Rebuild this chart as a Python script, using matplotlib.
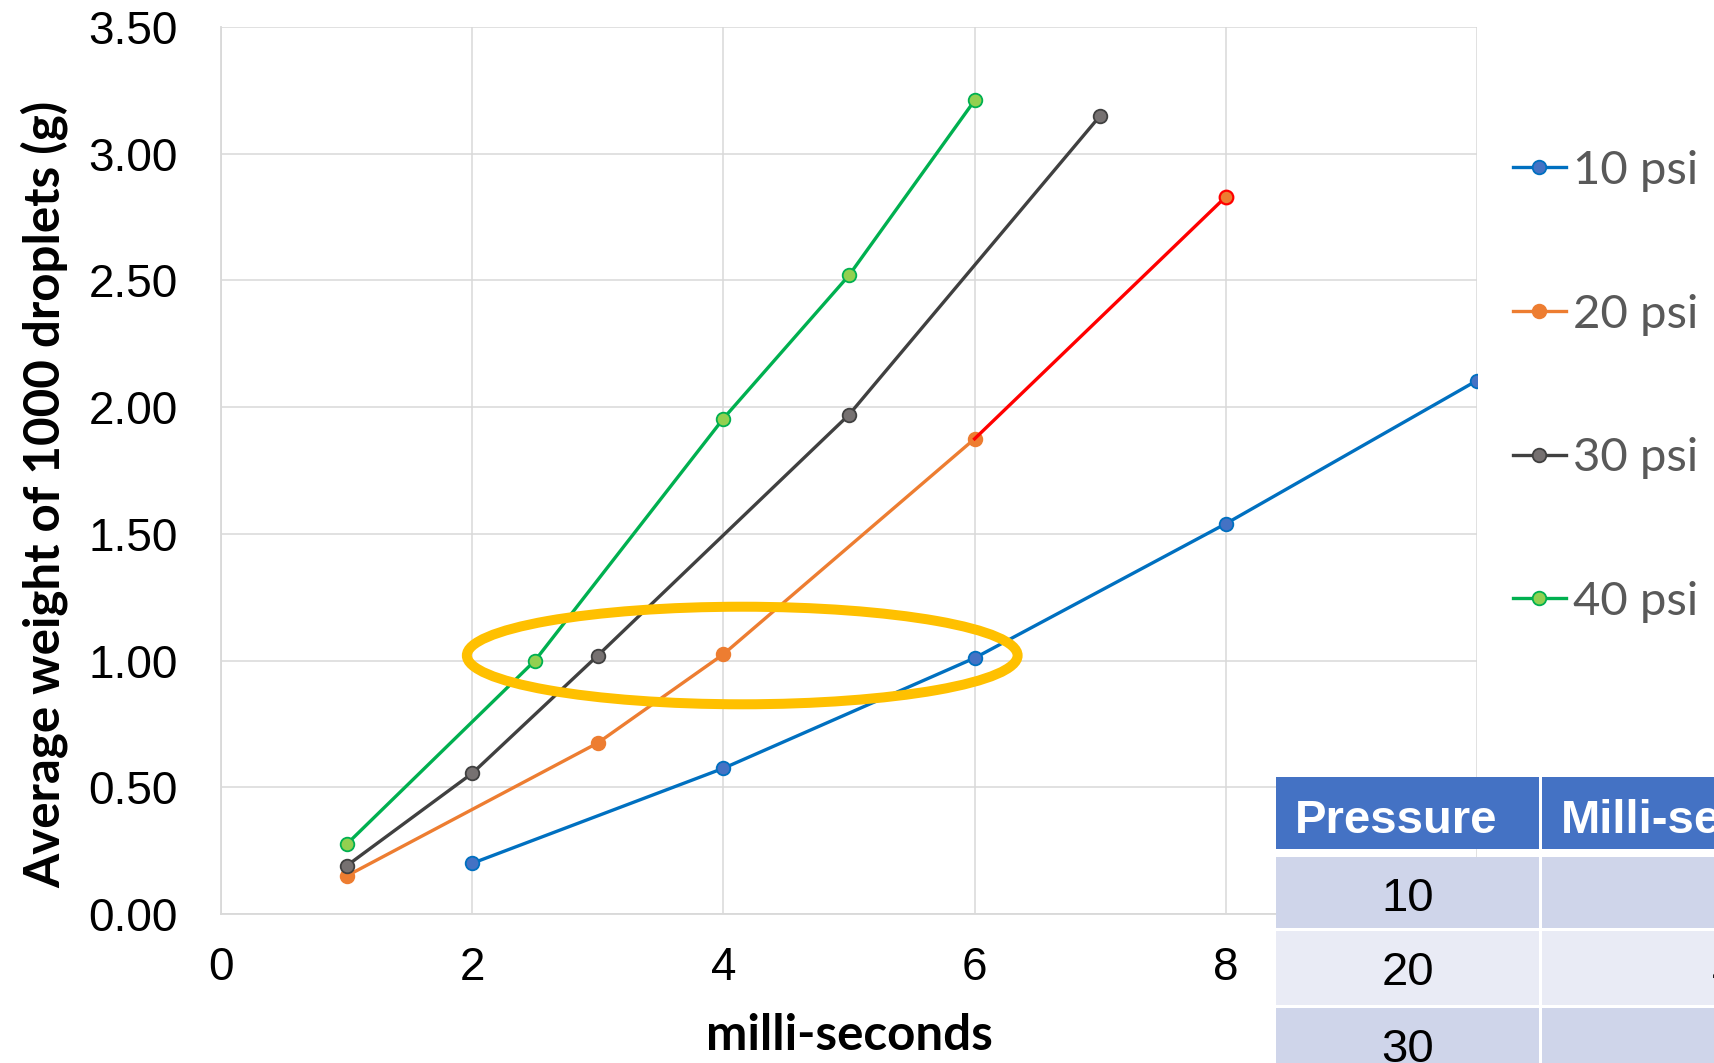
import matplotlib
matplotlib.use("Agg")
import matplotlib.pyplot as plt
from matplotlib.patches import Ellipse, Rectangle

# droplet weight vs valve open time, one series per pressure
ms_10 = [2, 4, 6, 8, 10]
wt_10 = [0.20, 0.575, 1.01, 1.54, 2.105]
ms_20 = [1, 3, 4, 6, 8]
wt_20 = [0.15, 0.675, 1.025, 1.875, 2.83]
ms_30 = [1, 2, 3, 5, 7]
wt_30 = [0.19, 0.555, 1.02, 1.97, 3.15]
ms_40 = [1, 2.5, 4, 5, 6]
wt_40 = [0.275, 1.0, 1.955, 2.52, 3.21]

labels = ["10 psi", "20 psi", "30 psi", "40 psi"]

# summary table: time needed for ~1 g per 1000 droplets
tbl_header = ["Pressure", "Milli-seconds"]
tbl_pressure = ["10", "20", "30"]
tbl_ms = ["6", "4", "3"]

W, H = 1714, 1063
fig = plt.figure(figsize=(W / 100, H / 100), dpi=100)
ax = fig.add_axes([221 / W, 1 - 914 / H, 1256 / W, 887 / H])

lw, ms = 2.4, 9.8
ax.plot(ms_10, wt_10, "-o", color="#0070C0", lw=lw, ms=ms, mfc="#4472C4",
        mec="#0070C0", mew=1.3, label=labels[0], zorder=3)
ax.plot(ms_20[:-1], wt_20[:-1], "-o", color="#ED7D31", lw=lw, ms=ms,
        mfc="#ED7D31", mec="#ED7D31", mew=1.3, label=labels[1], zorder=3)
# last 20 psi segment highlighted in red
ax.plot(ms_20[-2:], wt_20[-2:], "-", color="#FF0000", lw=lw, zorder=3)
ax.plot(ms_20[-1:], wt_20[-1:], "o", ms=ms, mfc="#ED7D31", mec="#FF0000",
        mew=1.6, zorder=4)
ax.plot(ms_30, wt_30, "-o", color="#404040", lw=lw, ms=ms, mfc="#767171",
        mec="#404040", mew=1.3, label=labels[2], zorder=3)
ax.plot(ms_40, wt_40, "-o", color="#00B050", lw=lw, ms=ms, mfc="#92D050",
        mec="#00B050", mew=1.3, label=labels[3], zorder=3)

# ring around the ~1 g points
ax.add_patch(Ellipse((4.15, 1.02), 4.385, 0.385, fill=False, ec="#FFC000",
                     lw=7.2, zorder=5))

ax.set_xlim(0, 10)
ax.set_ylim(0, 3.5)
ax.set_xticks(range(0, 11, 2))
ax.set_yticks([i * 0.5 for i in range(8)])
ax.yaxis.set_major_formatter(matplotlib.ticker.FormatStrFormatter("%.2f"))
ax.grid(True, color="#D9D9D9", lw=1.1)
ax.set_axisbelow(True)
for s in ["top", "right"]:
    ax.spines[s].set_visible(False)
for s in ["left", "bottom"]:
    ax.spines[s].set_color("#D9D9D9")
    ax.spines[s].set_linewidth(1.3)
ax.tick_params(length=0, labelsize=33)
ax.tick_params(axis="y", pad=31)
ax.tick_params(axis="x", pad=23)
for t in ax.get_xticklabels() + ax.get_yticklabels():
    t.set_fontfamily("Liberation Sans")

ax.set_xlabel("milli-seconds", fontsize=35.5, fontweight="bold", family="Lato")
ax.xaxis.set_label_coords(0.5, -0.112)
ax.set_ylabel("Average weight of 1000 droplets (g)", fontsize=35.5,
              fontweight="bold", family="Lato")
ax.yaxis.set_label_coords(-0.122, 0.4735)

handles, labs = ax.get_legend_handles_labels()
leg = fig.legend(handles, labs, loc="upper left",
                 bbox_to_anchor=(1513 / W, 1 - 150 / H), frameon=False,
                 prop={"family": "Lato", "size": 34}, labelcolor="#595959",
                 handlelength=1.12, handletextpad=0.15, labelspacing=2.15,
                 borderpad=0, borderaxespad=0)


def px(x, y):
    return x / W, 1 - y / H


def cell(x0, y0, x1, y1, color):
    fx, fy = px(x0, y1)
    fig.add_artist(Rectangle((fx, fy), (x1 - x0) / W, (y1 - y0) / H,
                             transform=fig.transFigure, fc=color, ec="none",
                             zorder=10))


col_x = [(1276, 1539), (1542, 1960)]
row_y = [(857, 928), (931, 1005), (1008, 1080)]
row_col = ["#CFD5EA", "#E9EBF5", "#CFD5EA"]

for x0, x1 in col_x:
    cell(x0, 777, x1, 849, "#4472C4")
for text, (x0, x1) in zip(tbl_header, col_x):
    fig.text(*px(x0 + 19, 833), text, ha="left", va="baseline",
             fontsize=34, fontweight="bold", color="white",
             family="Liberation Sans", zorder=11)
for i, (y0, y1) in enumerate(row_y):
    for x0, x1 in col_x:
        cell(x0, y0, x1, y1, row_col[i])
    base = y0 + 54
    fig.text(*px(1407.5, base), tbl_pressure[i], ha="center", va="baseline",
             fontsize=34, family="Liberation Sans", zorder=11)
    fig.text(*px(1712, base), tbl_ms[i], ha="left", va="baseline",
             fontsize=34, family="Liberation Sans", zorder=11)

fig.savefig("out.png", dpi=100)
